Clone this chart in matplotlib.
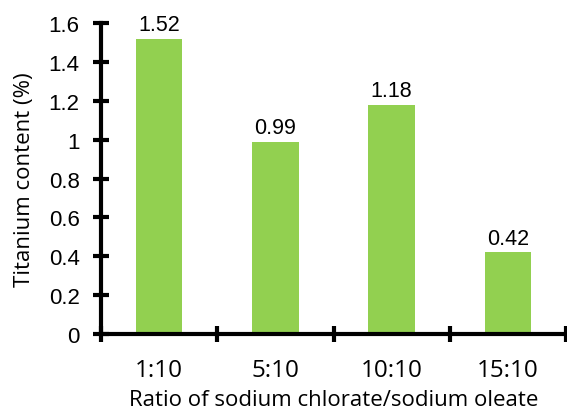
import matplotlib.pyplot as plt
import numpy as np

ratios = ["1:10", "5:10", "10:10", "15:10"]
titanium = [1.52, 0.99, 1.18, 0.42]

fig = plt.figure(figsize=(5.67, 4.10), dpi=100)
ax = fig.add_axes([0.1782, 0.183, 0.82, 0.758])

x = np.arange(len(ratios))
ax.bar(x, titanium, width=0.4, color="#92D050", zorder=2)

for xi, v in zip(x, titanium):
    ax.text(xi, v + 0.02, f"{v:.2f}", ha="center", va="bottom",
            fontsize=15.5, family="Liberation Sans")

ax.set_xlim(-0.5, len(ratios) - 0.5)
ax.set_ylim(0, 1.6)

# category labels sit between the boundary tick marks
ax.set_xticks(np.arange(-0.5, len(ratios)), labels=[])
ax.set_xticks(x, labels=ratios, minor=True)
ax.tick_params(axis="x", which="major", direction="inout", length=11, width=3)
ax.tick_params(axis="x", which="minor", length=0, pad=17, labelsize=17.5)
for lbl in ax.get_xticklabels(minor=True):
    lbl.set_family("Open Sans")

ax.set_yticks(np.arange(0, 1.61, 0.2))
ax.set_yticklabels(["0", "0.2", "0.4", "0.6", "0.8", "1", "1.2", "1.4", "1.6"])
ax.tick_params(axis="y", direction="inout", length=11, width=3, labelsize=16, pad=10)
for lbl in ax.get_yticklabels():
    lbl.set_family("Liberation Sans")

for side in ["top", "right"]:
    ax.spines[side].set_visible(False)
for side in ["left", "bottom"]:
    ax.spines[side].set_linewidth(3)

ax.set_xlabel("Ratio of sodium chlorate/sodium oleate", fontsize=16,
              family="Open Sans", labelpad=5)
ax.set_ylabel("Titanium content (%)", fontsize=16, family="Open Sans",
              labelpad=10)

fig.savefig("out.png", dpi=100)
